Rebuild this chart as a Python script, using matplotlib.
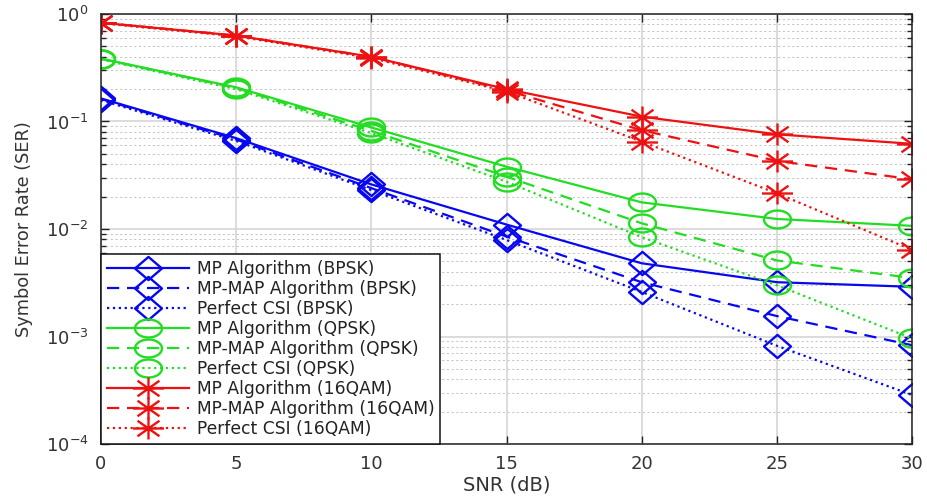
import numpy as np
import matplotlib
matplotlib.use("Agg")
import matplotlib.pyplot as plt
from matplotlib.path import Path
from matplotlib.ticker import FixedLocator, NullFormatter, LogLocator

plt.rcParams['font.family'] = ['DejaVu Sans']

snr_db = [0, 5, 10, 15, 20, 25, 30]

# BPSK
bpsk_mp      = [0.164, 0.070, 0.0260, 0.0110, 0.0048, 0.0032, 0.0029]
bpsk_mpmap   = [0.162, 0.068, 0.0240, 0.0085, 0.0032, 0.00155, 0.00083]
bpsk_perfect = [0.158, 0.066, 0.0230, 0.0079, 0.0026, 0.00082, 0.000286]

# QPSK
qpsk_mp      = [0.385, 0.208, 0.088, 0.038, 0.0177, 0.0124, 0.0107]
qpsk_mpmap   = [0.383, 0.205, 0.082, 0.0307, 0.0113, 0.0051, 0.0035]
qpsk_perfect = [0.378, 0.200, 0.078, 0.0275, 0.0084, 0.0030, 0.00096]

# 16QAM
qam_mp      = [0.83, 0.63, 0.40, 0.200, 0.111, 0.076, 0.062]
qam_mpmap   = [0.83, 0.63, 0.40, 0.195, 0.083, 0.043, 0.029]
qam_perfect = [0.82, 0.62, 0.39, 0.190, 0.065, 0.0215, 0.0064]

labels = [
    "MP Algorithm (BPSK)", "MP-MAP Algorithm (BPSK)", "Perfect CSI (BPSK)",
    "MP Algorithm (QPSK)", "MP-MAP Algorithm (QPSK)", "Perfect CSI (QPSK)",
    "MP Algorithm (16QAM)", "MP-MAP Algorithm (16QAM)", "Perfect CSI (16QAM)",
]

x_ticks = [0, 5, 10, 15, 20, 25, 30]
y_ticks = [1e-4, 1e-3, 1e-2, 1e-1, 1e0]
y_tick_labels = [r"$\mathregular{10^{-4}}$", r"$\mathregular{10^{-3}}$",
                 r"$\mathregular{10^{-2}}$", r"$\mathregular{10^{-1}}$",
                 r"$\mathregular{10^{0}}$"]

blue = "#0808f0"
green = "#22dd22"
red = "#ee1111"

# Wide marker shapes (open diamond, ellipse, eight-arm asterisk)
diamond = Path([(0.5, 0), (0, 0.43), (-0.5, 0), (0, -0.43), (0.5, 0)],
               [Path.MOVETO, Path.LINETO, Path.LINETO, Path.LINETO, Path.CLOSEPOLY])
theta = np.linspace(0, 2 * np.pi, 73)
ellipse = Path(np.column_stack([0.5 * np.cos(theta), 0.333 * np.sin(theta)]), closed=True)
h, v, dx, dy = 0.5, 0.355, 0.354, 0.251
asterisk = Path([(-h, 0), (h, 0), (0, -v), (0, v), (-dx, -dy), (dx, dy), (-dx, dy), (dx, -dy)],
                [Path.MOVETO, Path.LINETO] * 4)

fig = plt.figure(figsize=(9.28, 4.98), dpi=100)
ax = fig.add_axes([0.1088, 0.1084, 0.874, 0.8635])

series = [
    (bpsk_mp, blue, "-", diamond, 19.4), (bpsk_mpmap, blue, "--", diamond, 19.4),
    (bpsk_perfect, blue, ":", diamond, 19.4),
    (qpsk_mp, green, "-", ellipse, 19.4), (qpsk_mpmap, green, "--", ellipse, 19.4),
    (qpsk_perfect, green, ":", ellipse, 19.4),
    (qam_mp, red, "-", asterisk, 22.3), (qam_mpmap, red, "--", asterisk, 22.3),
    (qam_perfect, red, ":", asterisk, 22.3),
]

for (vals, col, ls, mk, ms), lab in zip(series, labels):
    line, = ax.plot(snr_db, vals, color=col, linestyle=ls, marker=mk,
                    markersize=ms, markerfacecolor="none", markeredgecolor=col,
                    markeredgewidth=1.7, linewidth=1.6, label=lab)
    if ls == "--":
        line.set_dashes((5.5, 3.5))

ax.set_yscale("log")
ax.set_xlim(0, 30)
ax.set_ylim(1e-4, 1e0)
ax.xaxis.set_major_locator(FixedLocator(x_ticks))
ax.yaxis.set_major_locator(FixedLocator(y_ticks))
ax.set_yticklabels(y_tick_labels)
ax.yaxis.set_minor_locator(LogLocator(base=10, subs=np.arange(2, 10), numticks=20))
ax.yaxis.set_minor_formatter(NullFormatter())

ax.grid(True, which="major", color="#d2d2d2", linestyle="-", linewidth=1.1)
ax.grid(True, which="minor", axis="y", color="#c4c4c4", linestyle=(0, (2.2, 2.6)),
        linewidth=0.7)
ax.set_axisbelow(True)

ax.tick_params(which="both", direction="in", top=True, right=True, labelsize=13,
               colors="#222222", labelcolor="#333333")
ax.tick_params(axis="x", which="major", pad=8)
ax.tick_params(axis="y", which="major", pad=9)
ax.tick_params(which="major", length=6, width=1)
ax.tick_params(which="minor", length=3.5, width=1)
for sp in ax.spines.values():
    sp.set_color("#222222")
    sp.set_linewidth(1.1)

ax.set_xlabel("SNR (dB)", fontsize=14, color="#333333", labelpad=2)
ax.set_ylabel("Symbol Error Rate (SER)", fontsize=12.8, color="#333333", labelpad=9)

leg = ax.legend(loc="lower left", fontsize=12.3, numpoints=1, handlelength=4.8,
                handletextpad=0.45, borderaxespad=0.0, borderpad=0.35,
                labelspacing=0.12, fancybox=False, framealpha=1, edgecolor="#111111")
leg.get_frame().set_linewidth(1.1)
for t in leg.get_texts():
    t.set_color("#222222")

fig.savefig("out.png", dpi=100)
